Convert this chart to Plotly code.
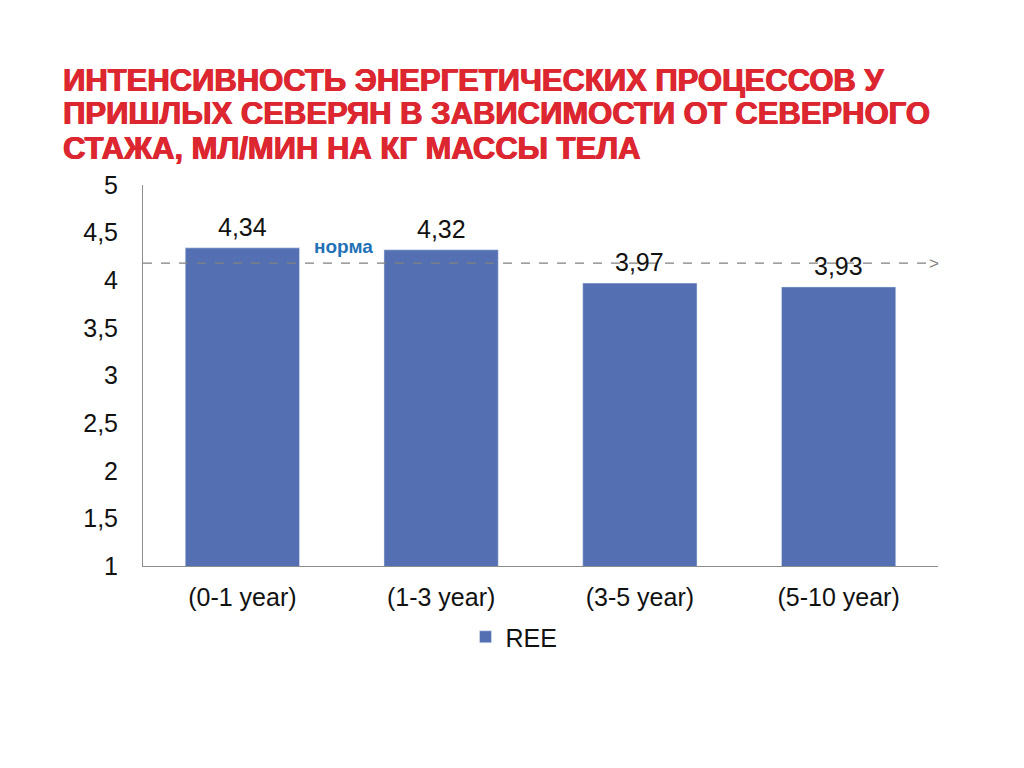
import plotly.graph_objects as go

categories = ["(0-1 year)", "(1-3 year)", "(3-5 year)", "(5-10 year)"]
ree_values = [4.34, 4.32, 3.97, 3.93]
value_labels = ["4,34", "4,32", "3,97", "3,93"]
norm_value = [4.18]
norm_label = ["норма"]
series_name = "REE"
title_lines = [
    "ИНТЕНСИВНОСТЬ ЭНЕРГЕТИЧЕСКИХ ПРОЦЕССОВ У",
    "ПРИШЛЫХ СЕВЕРЯН В ЗАВИСИМОСТИ ОТ СЕВЕРНОГО",
    "СТАЖА, МЛ/МИН НА КГ МАССЫ ТЕЛА",
]
y_ticks = [1, 1.5, 2, 2.5, 3, 3.5, 4, 4.5, 5]

# plot area in page pixels (page has an 8px body offset)
OFF = 8
PL, PR, PT, PB = 143, 938, 185, 566
PW, PH = PR - PL, PB - PT

def px_x(p):
    return (p - PL) / PW

def px_y(p):
    return (PB - p) / PH

fig = go.Figure()
fig.add_trace(go.Bar(
    x=categories, y=ree_values, name=series_name,
    marker=dict(color="#5470B2"),
))

# value labels above bars
for cat, val, lab in zip(categories, ree_values, value_labels):
    fig.add_annotation(xref="x", yref="y", x=cat, y=val, text=lab,
                       showarrow=False, yanchor="bottom", yshift=5,
                       font=dict(size=25, color="#111111", family="Liberation Sans"))

# norm dashed line
fig.add_shape(type="line", xref="paper", yref="y", x0=0, x1=px_x(932),
              y0=norm_value[0], y1=norm_value[0],
              line=dict(color="#808080", width=1.2, dash="dash"), layer="above")
fig.add_annotation(xref="paper", yref="y", x=px_x(927), y=norm_value[0], text="&gt;",
                   showarrow=False, xanchor="left", yanchor="middle",
                   font=dict(size=17, color="#808080", family="Liberation Sans"))
fig.add_annotation(xref="x", yref="y", x=0.51, y=norm_value[0], text="<b>" + norm_label[0] + "</b>",
                   showarrow=False, yanchor="bottom", yshift=4,
                   font=dict(size=19, color="#1F72B8", family="Liberation Sans"))

title_centers = [81, 114, 148]
for line, cy in zip(title_lines, title_centers):
    fig.add_annotation(xref="paper", yref="paper", x=px_x(61), y=px_y(cy),
                       text="<b>" + line + "</b>", showarrow=False,
                       xanchor="left", yanchor="middle",
                       font=dict(size=31, color="#DC2630", family="Liberation Sans",
                                 shadow="0.7px 0 0 #DC2630, -0.5px 0 0 #DC2630"))

fig.update_layout(
    width=1024, height=768,
    paper_bgcolor="white", plot_bgcolor="white",
    separators=", ",
    margin=dict(l=PL - OFF, r=1024 + OFF - PR, t=PT - OFF, b=768 + OFF - PB),
    font=dict(family="Liberation Sans", size=25, color="#111111"),
    bargap=0.425,
    showlegend=True,
    legend=dict(orientation="h", x=px_x(514), xanchor="center", y=px_y(637), yanchor="middle",
                font=dict(size=25), itemwidth=30, tracegroupgap=0),
    xaxis=dict(showline=True, linecolor="#8C8C8C", linewidth=1, ticks="",
               tickfont=dict(size=25), showgrid=False, ticklabelstandoff=9),
    yaxis=dict(range=[1, 5], tickvals=y_ticks, showline=True, linecolor="#8C8C8C",
               linewidth=1, ticks="", showgrid=False, zeroline=False,
               tickfont=dict(size=25), ticklabelstandoff=19),
)

fig.write_html("out.html")
